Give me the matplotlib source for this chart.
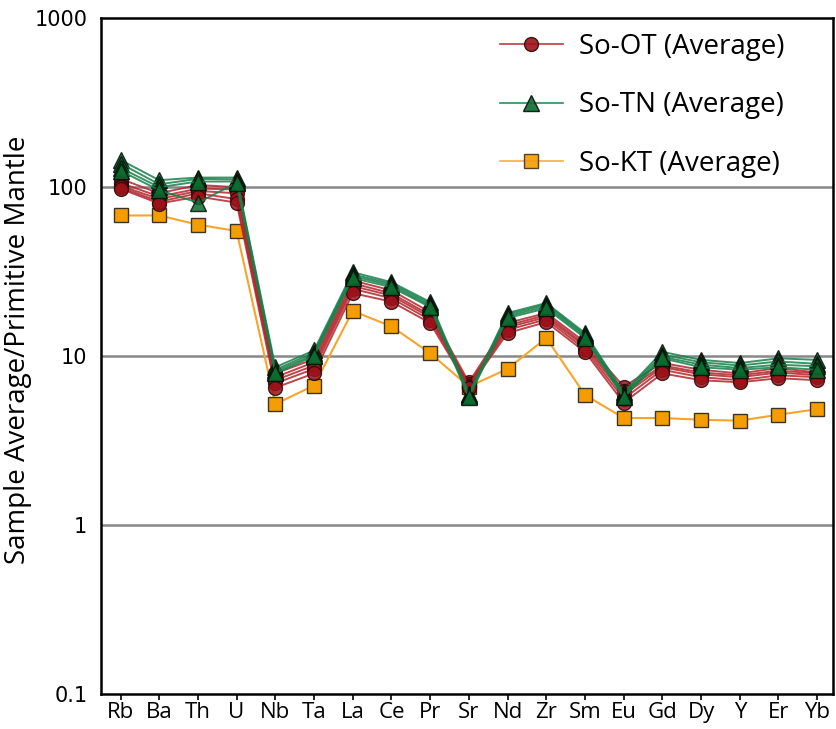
import matplotlib
matplotlib.use("Agg")
import matplotlib.pyplot as plt
from matplotlib.ticker import FixedLocator, FixedFormatter, NullLocator

elements = ["Rb", "Ba", "Th", "U", "Nb", "Ta", "La", "Ce", "Pr", "Sr",
            "Nd", "Zr", "Sm", "Eu", "Gd", "Dy", "Y", "Er", "Yb"]

# So-OT samples (red)
ot_1 = [112, 92, 103, 100, 7.9, 9.6, 28.0, 24.5, 18.2, 7.0, 15.7, 18.0, 12.1, 6.6, 9.1, 8.3, 7.9, 8.5, 8.0]
ot_2 = [106, 88, 98, 97, 7.5, 9.2, 27.0, 23.5, 17.5, 6.8, 15.2, 17.5, 11.7, 6.2, 8.8, 8.0, 7.7, 8.2, 7.9]
ot_3 = [102, 85, 95, 92, 7.2, 8.8, 26.0, 22.8, 17.0, 6.7, 14.8, 17.0, 11.4, 5.9, 8.6, 7.8, 7.5, 8.0, 7.7]
ot_4 = [100, 82, 92, 85, 6.9, 8.4, 25.0, 22.0, 16.4, 6.6, 14.3, 16.5, 11.0, 5.6, 8.3, 7.5, 7.2, 7.7, 7.5]
ot_5 = [98, 80, 88, 81, 6.5, 7.9, 23.6, 21.0, 15.7, 6.5, 13.7, 15.9, 10.6, 5.3, 7.9, 7.2, 7.0, 7.4, 7.2]

# So-TN samples (green)
tn_1 = [145, 110, 114, 114, 8.6, 10.8, 31.4, 27.4, 20.9, 6.0, 18.0, 20.6, 13.7, 6.1, 10.6, 9.5, 9.1, 9.7, 9.5]
tn_2 = [138, 104, 112, 111, 8.3, 10.5, 30.5, 26.8, 20.4, 5.9, 17.6, 20.2, 13.4, 6.0, 10.2, 9.2, 8.8, 9.3, 9.0]
tn_3 = [130, 100, 108, 108, 8.1, 10.2, 29.8, 26.2, 19.9, 5.8, 17.2, 19.7, 13.1, 5.8, 9.9, 8.9, 8.5, 8.9, 8.7]
tn_4 = [125, 96, 81, 106, 7.9, 10.0, 29.0, 25.6, 19.5, 5.7, 16.8, 19.2, 12.8, 5.7, 9.7, 8.6, 8.3, 8.6, 8.3]

# So-KT (orange)
kt = [68, 68, 60, 55, 5.2, 6.7, 18.5, 15.0, 10.4, 6.6, 8.4, 12.8, 5.9, 4.3, 4.3, 4.2, 4.15, 4.5, 4.85]

ot_samples = [ot_1, ot_2, ot_3, ot_4, ot_5]
tn_samples = [tn_1, tn_2, tn_3, tn_4]

y_ticks = [0.1, 1, 10, 100, 1000]
y_labels = ["0.1", "1", "10", "100", "1000"]

fig = plt.figure(figsize=(8.36, 7.29), dpi=100)
ax = fig.add_axes([0.121, 0.048, 0.875, 0.927])
x = list(range(len(elements)))

h_kt, = ax.plot(x, kt, color="#f7a52a", lw=1.5, marker="s", ms=10,
                mfc="#f59d00", mec="#3d3420", mew=1.0, zorder=3,
                label="So-KT (Average)")

h_ot = None
for s in ot_samples:
    h, = ax.plot(x, s, color="#b3262c", lw=1.4, alpha=0.85, marker="o", ms=10,
                 mfc="#9c1118", mec="#2a0a0a", mew=1.0, zorder=4)
    h_ot = h if h_ot is None else h_ot
h_ot.set_label("So-OT (Average)")

h_tn = None
for s in tn_samples:
    h, = ax.plot(x, s, color="#17804a", lw=1.4, alpha=0.85, marker="^", ms=11,
                 mfc="#0b6b2e", mec="#050f08", mew=1.0, zorder=5)
    h_tn = h if h_tn is None else h_tn
h_tn.set_label("So-TN (Average)")

ax.set_yscale("log")
ax.set_ylim(0.1, 1000)
ax.set_xlim(-0.5, 18.4)
ax.yaxis.set_major_locator(FixedLocator(y_ticks))
ax.yaxis.set_major_formatter(FixedFormatter(y_labels))
ax.yaxis.set_minor_locator(NullLocator())
for v in [1, 10, 100]:
    ax.axhline(v, color="#888888", lw=1.8, zorder=1)

ax.set_xticks(x)
ax.set_xticklabels(elements, fontsize=16, family="Open Sans")
ax.tick_params(axis="x", direction="out", length=4, width=1.2, pad=1.5)
ax.tick_params(axis="y", length=0, pad=10, labelsize=15)
for lab in ax.get_yticklabels():
    lab.set_family("DejaVu Sans")

for sp in ax.spines.values():
    sp.set_linewidth(1.8)
    sp.set_color("black")

ax.set_ylabel("Sample Average/Primitive Mantle", fontsize=20, family="Open Sans")
ax.yaxis.set_label_coords(-0.094, 0.51)

leg = ax.legend(handles=[h_ot, h_tn, h_kt], loc="upper right", frameon=False,
                prop={"family": "Open Sans", "size": 20}, handlelength=2.27,
                handletextpad=0.6, labelspacing=1.09, borderaxespad=0,
                bbox_to_anchor=(0.952, 0.970), bbox_transform=fig.transFigure)
for lh in leg.legend_handles:
    lh.set_alpha(0.9)
    lh.set_linewidth(1.2)

fig.savefig("out.png", dpi=100)
